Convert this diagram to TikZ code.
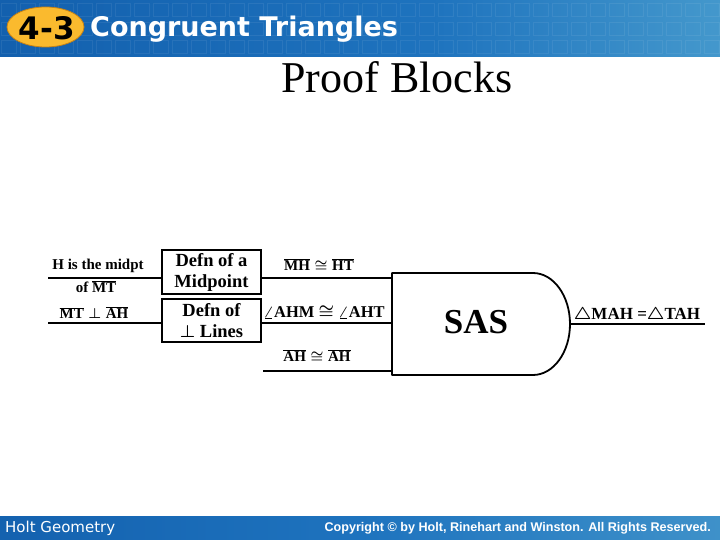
\documentclass[tikz,border=0pt]{standalone}
\usepackage{fontspec}
\setmainfont{Liberation Serif}
\newfontfamily\hdrfont{DejaVu Sans}
\newfontfamily\cpfont{Liberation Sans}
\definecolor{hdl}{RGB}{10,80,160}
\definecolor{hdm}{RGB}{30,115,190}
\definecolor{hdr}{RGB}{115,198,222}
\definecolor{ftr}{RGB}{95,175,212}
\definecolor{orng}{RGB}{250,186,46}
\definecolor{orngd}{RGB}{200,130,20}
\pgfdeclarehorizontalshading{hdrshade}{100bp}{color(0bp)=(hdl); color(55bp)=(hdm); color(100bp)=(hdr)}
\pgfdeclarehorizontalshading{ftrshade}{100bp}{color(0bp)=(hdl); color(50bp)=(hdm); color(100bp)=(ftr)}
\tikzset{
  lbl/.style={font=\fontsize{15}{18}\selectfont\bfseries\boldmath, inner sep=0pt},
  blk/.style={draw, line width=1.6pt, minimum width=99pt, minimum height=44pt, align=center, inner sep=0pt, font=\fontsize{18.5}{21}\selectfont\bfseries\boldmath},
  ln/.style={line width=1.4pt},
  sasln/.style={line width=1.8pt, line join=round},
  sq/.style={draw=white, draw opacity=0.07, line width=0.8pt},
}
\begin{document}
\begin{tikzpicture}[x=1pt,y=-1pt]
\useasboundingbox (0,0) rectangle (720,540);
\fill[white] (0,0) rectangle (720,540);
% header
\fill[shading=hdrshade] (0,0) rectangle (720,57);
\foreach \i in {0,...,37}{\foreach \j in {3,22,40}{\draw[sq] (\i*19+1,\j) rectangle ++(15,13);}}
\fill[orng, draw=orngd, line width=0.8pt] (45.5,27) ellipse [x radius=38.5pt, y radius=20pt];
\node[font=\hdrfont\fontsize{31}{31}\selectfont\bfseries, text=black, inner sep=0pt] (num) at (47,28) {4-3};
\node[font=\hdrfont\fontsize{27}{28}\selectfont\bfseries, text=white, anchor=west, inner sep=0pt] (ttl) at (90,29) {Congruent Triangles};
% footer
\fill[shading=ftrshade] (0,516) rectangle (720,540);
\node[font=\hdrfont\fontsize{15}{16}\selectfont, text=white, anchor=west, inner sep=0pt] (holt) at (5,528) {Holt Geometry};
\node[font=\cpfont\fontsize{12.6}{13}\selectfont\bfseries, text=white, anchor=east, inner sep=0pt] (copy) at (711,528) {Copyright \textcopyright\ by Holt, Rinehart and Winston. All Rights Reserved.};
% title
\node[font=\fontsize{44}{46}\selectfont, inner sep=0pt] (title) at (397,77) {Proof Blocks};
% left statements
\node[lbl] (t1) at (98,266) {H is the midpt};
\node[lbl] (t2) at (96,287) {of $\overline{\hbox{MT}}$};
\node[lbl] (t3) at (94,313) {$\overline{\hbox{MT}}\perp\overline{\hbox{AH}}$};
\node[blk] (b1) at (211.5,272) {Defn of a\\Midpoint};
\node[blk, minimum height=43pt] (b2) at (211.5,320.5) {Defn of\\$\perp$ Lines};
% middle statements
\node[lbl] (m1) at (319,265) {$\overline{\hbox{MH}}\cong\overline{\hbox{HT}}$};
\node[lbl, font=\fontsize{16.5}{18}\selectfont\bfseries\boldmath] (m2) at (324,312) {$\angle$AHM $\cong$ $\angle$AHT};
\node[lbl] (m3) at (317,356) {$\overline{\hbox{AH}}\cong\overline{\hbox{AH}}$};
% SAS block
\draw[sasln] (392,273) -- (533,273) arc[start angle=90, end angle=-90, x radius=37pt, y radius=51pt] -- (392,375) -- cycle;
\node[font=\fontsize{35}{36}\selectfont\bfseries, inner sep=0pt] (sas) at (476,322) {SAS};
\node[lbl, font=\fontsize{17}{18}\selectfont\bfseries\boldmath] (res) at (637,315) {$\triangle$MAH =$\triangle$TAH};
% connectors
\coordinate (a1) at (48,278);
\coordinate (a2) at (48,323);
\coordinate (c3) at (263,371);
\coordinate (s1) at (392,278);
\coordinate (s2) at (392,323);
\coordinate (s3) at (392,371);
\coordinate (o1) at (570,324);
\coordinate (o2) at (705,324);
\draw[ln] (a1) -- (a1 -| b1.west);
\draw[ln] (a2) -- (a2 -| b2.west);
\draw[ln] (s1 -| b1.east) -- (s1);
\draw[ln] (s2 -| b2.east) -- (s2);
\draw[ln] (c3) -- (s3);
\draw[ln] (o1) -- (o2);
\end{tikzpicture}
\end{document}
